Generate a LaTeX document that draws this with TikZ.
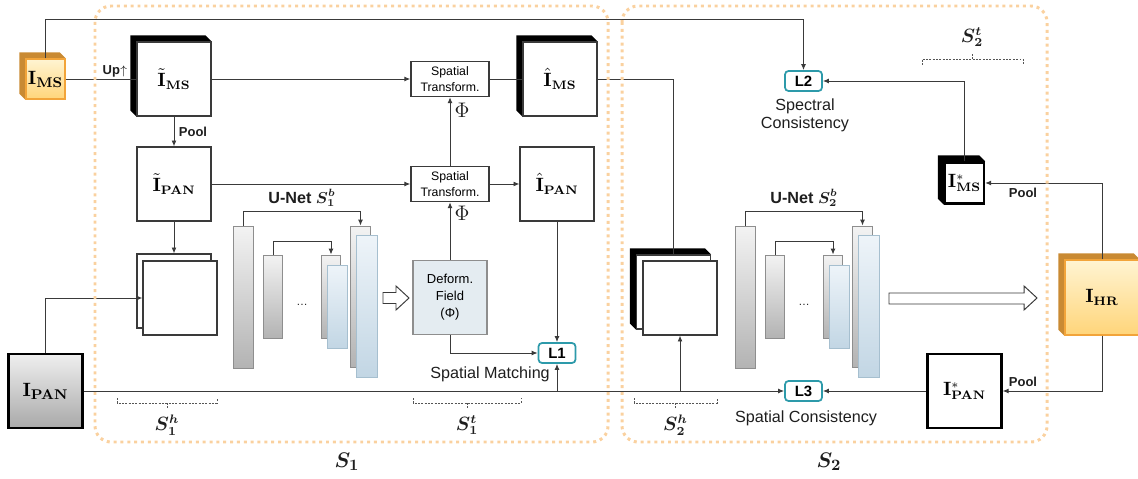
\documentclass[tikz,border=0pt]{standalone}
\usepackage[no-math]{fontspec}
\setmainfont{Liberation Sans}
\usepackage{bm}
\usetikzlibrary{arrows.meta,calc,backgrounds}

\definecolor{PipeLine}{HTML}{3A3A3A}
\definecolor{PipeText}{HTML}{1E1E1E}
\definecolor{StageDot}{HTML}{FAD19F}
\definecolor{LossTeal}{HTML}{2D9AAA}
\definecolor{BarEdge}{HTML}{8E8E8E}
\definecolor{BarTop}{HTML}{F3F3F3}
\definecolor{BarBot}{HTML}{B3B3B3}
\definecolor{DecEdge}{HTML}{A6BFCF}
\definecolor{DecTop}{HTML}{EEF4F9}
\definecolor{DecBot}{HTML}{C2D6E4}
\definecolor{FieldFill}{HTML}{E4ECF1}
\definecolor{CubeTop}{HTML}{FFF4D2}
\definecolor{CubeBot}{HTML}{FFD57A}
\definecolor{CubeEdge}{HTML}{F2A43A}
\definecolor{CubeSide}{HTML}{C98A33}
\definecolor{PanTop}{HTML}{EFEFEF}
\definecolor{PanBot}{HTML}{A9A9A9}
\definecolor{BrkGray}{HTML}{555555}

% side and top face of a cube, behind the front node
\newcommand{\cubeback}[2]{%
  \begin{scope}[on background layer]
    \fill[#2] (#1.south west) -- ++(-6,-6) |- ($(#1.north east)+(-6,-6)$)
      -- (#1.north east) -- (#1.north west) -- cycle;
  \end{scope}}

\begin{document}
\begin{tikzpicture}[x=0.02cm,y=-0.02cm,
  flow/.style={draw=PipeLine,line width=0.55pt},
  arr/.style={flow,-{Latex[length=3.4pt,width=2.8pt]}},
  img/.style={draw=PipeLine,fill=white,line width=0.6pt,minimum width=1.48cm,minimum height=1.48cm,inner sep=0pt,font=\fontsize{10.5}{12}\selectfont},
  heavy/.style={img,draw=black,line width=1.3pt},
  orng/.style={img,draw=CubeEdge,top color=CubeTop,bottom color=CubeBot,line width=0.8pt},
  pan/.style={heavy,top color=PanTop,bottom color=PanBot},
  warp/.style={draw=PipeLine,fill=white,line width=0.8pt,minimum width=1.56cm,minimum height=0.7cm,align=center,inner sep=0pt,font=\fontsize{7}{9.2}\selectfont},
  loss/.style={draw=LossTeal,fill=white,line width=1pt,rounded corners=2pt,minimum width=0.74cm,minimum height=0.4cm,inner sep=0pt,font=\bfseries\fontsize{8.5}{10}\selectfont},
  enc/.style={draw=BarEdge,top color=BarTop,bottom color=BarBot,line width=0.5pt,minimum width=0.39cm,inner sep=0pt},
  dec/.style={draw=DecEdge,top color=DecTop,bottom color=DecBot,line width=0.5pt,minimum width=0.41cm,inner sep=0pt},
  lbl/.style={text=PipeText,font=\fontsize{9.2}{10.4}\selectfont,inner sep=0pt},
  tag/.style={text=PipeText,font=\bfseries\fontsize{7.4}{9}\selectfont,inner sep=0pt},
  sub/.style={text=PipeText,font=\fontsize{10.5}{12}\selectfont,inner sep=0pt},
  stage/.style={draw=StageDot,line width=1.7pt,dash pattern=on 1.7pt off 2.2pt,rounded corners=0.32cm},
  brk/.style={draw=BrkGray,line width=0.4pt,dash pattern=on 1.1pt off 0.8pt},
  hollow/.style={draw=PipeLine,fill=white,line width=0.55pt}]
\useasboundingbox (0,0) rectangle (1138,479);

% inputs
\node[orng,minimum width=0.78cm,minimum height=0.8cm,font=\fontsize{11}{12}\selectfont] (ims) at (45.5,79) {$\mathbf{I}_{\mathbf{MS}}$};
\cubeback{ims}{CubeSide}
\node[pan,font=\fontsize{11}{12}\selectfont] (ipan) at (45.5,391) {$\mathbf{I}_{\mathbf{PAN}}$};

% stage 1
\node[img] (imst) at (174,79) {$\tilde{\mathbf{I}}_{\mathbf{MS}}$};
\cubeback{imst}{black}
\node[img] (ipant) at (174,184) {$\tilde{\mathbf{I}}_{\mathbf{PAN}}$};
\node[img] (s1b) at (174,291) {};
\node[img] (s1f) at (180,298) {};
\node[warp] (st1) at (450,79) {Spatial\\Transform.};
\node[warp] (st2) at (450,184) {Spatial\\Transform.};
\node[img,fill=FieldFill,draw=BarEdge,align=center,font=\fontsize{7.4}{9.6}\selectfont] (field) at (450,297.5) {Deform.\\Field\\(Φ)};
\node[img] (imsh) at (560,79) {$\hat{\mathbf{I}}_{\mathbf{MS}}$};
\cubeback{imsh}{black}
\node[img] (ipanh) at (557,184) {$\hat{\mathbf{I}}_{\mathbf{PAN}}$};
\node[loss] (l1) at (557,353) {L1};

% stage 2
\node[img] (s2b) at (673.5,292) {};
\cubeback{s2b}{black}
\node[img] (s2f) at (680,298) {};
\node[loss] (l2) at (803.5,81) {L2};
\node[loss] (l3) at (803.5,391) {L3};
\node[heavy,minimum width=0.78cm,minimum height=0.82cm] (imss) at (964.5,183) {$\mathbf{I}^{*}_{\mathbf{MS}}$};
\cubeback{imss}{black}
\node[heavy] (ipans) at (964.5,391) {$\mathbf{I}^{*}_{\mathbf{PAN}}$};
\node[orng,minimum height=1.5cm] (ihr) at (1102,297.5) {$\mathbf{I}_{\mathbf{HR}}$};
\cubeback{ihr}{CubeSide}

% the two U-Nets
\foreach \dx/\k in {0/1,502/2}{
  \node[enc,minimum height=2.84cm] (ua\k) at (243.5+\dx,297) {};
  \node[enc,minimum height=1.66cm] (ub\k) at (273+\dx,296.5) {};
  \node[enc,minimum height=1.66cm] (uc\k) at (331+\dx,296.5) {};
  \node[dec,minimum height=1.66cm] (ucb\k) at (337.5+\dx,306.5) {};
  \node[enc,minimum height=2.82cm] (ud\k) at (360.5+\dx,296.5) {};
  \node[dec,minimum height=2.84cm] (udb\k) at (367+\dx,306) {};
  \draw[arr] (ua\k.north) -- ++(0,-14) -| (ud\k.north);
  \draw[arr] (ub\k.north) -- ++(0,-13) -| (uc\k.north);
  \node[text=PipeText,font=\fontsize{6.5}{8}\selectfont] (dots\k) at (302+\dx,305) {\ldots};
  \node[lbl,font=\bfseries\fontsize{9.2}{11}\selectfont] (unet\k) at (302+\dx,198) {U-Net $\bm{S_{\k}^{b}}$};
}

% block arrows
\draw[hollow] (383,292.5) -- (396,292.5) -- (396,286) -- (409,298) -- (396,310) -- (396,303.5) -- (383,303.5) -- cycle;
\draw[hollow] (889,293) -- (1024,293) -- (1024,286) -- (1037,298) -- (1024,310) -- (1024,304) -- (889,304) -- cycle;

% connectors
\draw[arr] (ims.north) -- ++(0,-39) -| (l2.north);
\draw[flow] (ims.east) -- (imst.west);
\draw[arr] (imst.east) -- (st1.west);
\draw[flow] (st1.east) -- (imsh.west);
\draw[flow] (imsh.east) -| (s2b.north);
\draw[arr] (imst.south) -- (ipant.north);
\draw[arr] (ipant.east) -- (st2.west);
\draw[arr] (st2.east) -- (ipanh.west);
\draw[arr] (st2.north) -- (st1.south);
\draw[arr] (field.north) -- (st2.south);
\draw[arr] (field.south) |- (l1.west);
\draw[arr] (ipanh.south) -- (l1.north);
\draw[arr] (ipant.south) -- (s1b.north);
\draw[arr] (ipan.north) |- (s1f.west);
\draw[arr] (ipan.east) -- (l3.west);
\draw[arr] (l1.south |- ipan.east) -- (l1.south);
\draw[arr] (s2f.south |- ipan.east) -- (s2f.south);
\draw[arr] (ipans.west) -- (l3.east);
\draw[arr] (ihr.south) |- (ipans.east);
\draw[arr] (ihr.north) |- (imss.east);
\draw[arr] (imss.north) |- (l2.east);

% labels
\node[tag] (up) at (115,71) {Up$\uparrow$};
\node[tag] (pool1) at (193,132) {Pool};
\node[tag] (pool2) at (1023,193) {Pool};
\node[tag] (pool3) at (1023,382) {Pool};
\node[sub,font=\fontsize{11.5}{12}\selectfont] (phi1) at (462,110) {$\Phi$};
\node[sub,font=\fontsize{11.5}{12}\selectfont] (phi2) at (462,213) {$\Phi$};
\node[lbl] (match) at (490,374) {Spatial Matching};
\node[lbl,align=center] (spec) at (805,115) {Spectral\\Consistency};
\node[lbl] (cons) at (806,418) {Spatial Consistency};

% sub-network brackets
\draw[brk] (117,398) -- (117,403) -- (217,403) -- (217,398) (167,403) -- (167,408);
\node[sub] (s1h) at (167,425) {$\bm{S_1^h}$};
\draw[brk] (413,398) -- (413,403) -- (521,403) -- (521,398) (467,403) -- (467,408);
\node[sub] (s1t) at (467,425) {$\bm{S_1^t}$};
\draw[brk] (634,398) -- (634,403) -- (717,403) -- (717,398) (675.5,403) -- (675.5,408);
\node[sub] (s2h) at (675.5,425) {$\bm{S_2^h}$};
\draw[brk] (922,65) -- (922,59) -- (1023,59) -- (1023,65) (972,59) -- (972,53);
\node[sub] (s2t) at (972,37) {$\bm{S_2^t}$};

% stages
\draw[stage] (95,6) rectangle (608,442);
\draw[stage] (622,6) rectangle (1047,442);
\node[sub,font=\fontsize{13}{14}\selectfont] (st1lab) at (347,462) {$\bm{S_1}$};
\node[sub,font=\fontsize{13}{14}\selectfont] (st2lab) at (829,462) {$\bm{S_2}$};
\end{tikzpicture}
\end{document}
